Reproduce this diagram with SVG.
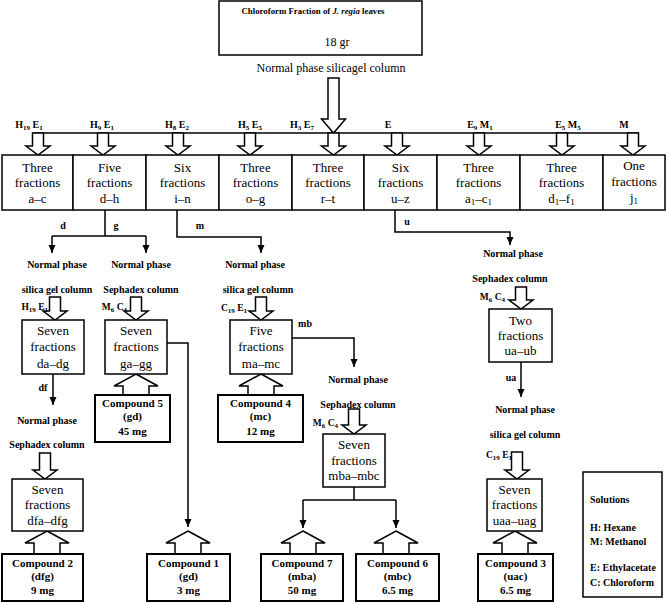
<svg xmlns="http://www.w3.org/2000/svg" width="667" height="602" viewBox="0 0 667 602" font-family="'Liberation Serif', 'DejaVu Serif', serif">
<defs>
<style>
.box{fill:#fff;stroke:#000;stroke-width:1.5}
.cbox{fill:#fff;stroke:#000;stroke-width:2}
.ln{fill:none;stroke:#000;stroke-width:1.5}
.blk{fill:#fff;stroke:#000;stroke-width:1.5;stroke-linejoin:miter}
text{font-family:"Liberation Serif","DejaVu Serif",serif;fill:#000}
.lbl{font-weight:bold;font-size:10px;text-anchor:middle}
.lbs{font-weight:bold;font-size:10px;text-anchor:start}
.lbe{font-weight:bold;font-size:9.5px;text-anchor:end}
.sb{font-size:7px}
.ft{font-size:13px;text-anchor:middle}
.fs{font-size:9px}
.ct{font-weight:bold;font-size:11px;text-anchor:middle}
</style>
<marker id="ah" markerWidth="8" markerHeight="8" refX="8" refY="4" orient="auto" markerUnits="userSpaceOnUse" viewBox="0 0 8 8"><path d="M0,0.5 L8,4 L0,7.5 Z" fill="#000"/></marker>
</defs>
<rect width="667" height="602" fill="#fff"/>

<g id="top">
<rect class="box" x="219" y="1" width="203" height="54"/>
<text x="313" y="14" style="font-size:8.8px;font-weight:bold;text-anchor:middle">Chloroform Fraction of <tspan font-style="italic">J. regia</tspan> leaves</text>
<text x="337" y="46" style="font-size:12px;text-anchor:middle">18 gr</text>
</g>
<text x="331" y="72" style="font-size:12px;text-anchor:middle">Normal phase silicagel column</text>

<g id="connectors">
<path class="ln" d="M33,133 H639"/>
<path class="blk" d="M328,78 H339 V119 H345.5 L333.5,133 L321.5,119 H328 Z"/>
<path class="blk" d="M32.5,133 H43.5 V146 H50 L38,155 L26,146 H32.5 Z"/>
<path class="blk" d="M97.5,133 H108.5 V146 H115 L103,155 L91,146 H97.5 Z"/>
<path class="blk" d="M172.5,133 H183.5 V146 H190 L178,155 L166,146 H172.5 Z"/>
<path class="blk" d="M244.5,133 H255.5 V146 H262 L250,155 L238,146 H244.5 Z"/>
<path class="blk" d="M328,133 H339 V146 H345.5 L333.5,155 L321.5,146 H328 Z"/>
<path class="blk" d="M391.5,133 H402.5 V146 H409 L397,155 L385,146 H391.5 Z"/>
<path class="blk" d="M473.5,133 H484.5 V146 H491 L479,155 L467,146 H473.5 Z"/>
<path class="blk" d="M556.5,133 H567.5 V146 H574 L562,155 L550,146 H556.5 Z"/>
<path class="blk" d="M627.5,133 H638.5 V146 H645 L633,155 L621,146 H627.5 Z"/>

<path class="ln" d="M105,210 V236 M52,236 H146"/>
<path class="ln" d="M52,236 V253" marker-end="url(#ah)"/>
<path class="ln" d="M146,236 V253" marker-end="url(#ah)"/>
<path class="ln" d="M177,210 V237 H261 V253" marker-end="url(#ah)"/>
<path class="ln" d="M395,210 V232 H510 V245" marker-end="url(#ah)"/>
<path class="ln" d="M53,374 V405" marker-end="url(#ah)"/>
<path class="ln" d="M167,343 H188 V527" marker-end="url(#ah)"/>
<path class="ln" d="M292,338 H354 V367" marker-end="url(#ah)"/>
<path class="ln" d="M521,362 V397" marker-end="url(#ah)"/>
<path class="ln" d="M354,487 V500 M303,500 H396"/>
<path class="ln" d="M303,500 V528" marker-end="url(#ah)"/>
<path class="ln" d="M396,500 V528" marker-end="url(#ah)"/>

<path class="blk" d="M49.5,297 H60.5 V311 H67 L55,320 L43,311 H49.5 Z"/>
<path class="blk" d="M130.5,297 H141.5 V311 H148 L136,320 L124,311 H130.5 Z"/>
<path class="blk" d="M255.5,297 H266.5 V311 H273 L261,320 L249,311 H255.5 Z"/>
<path class="blk" d="M348.5,409 H359.5 V425 H366 L354,434 L342,425 H348.5 Z"/>
<path class="blk" d="M515.5,287 H526.5 V300 H533 L521,309 L509,300 H515.5 Z"/>
<path class="blk" d="M39.5,453 H50.5 V470 H57 L45,479 L33,470 H39.5 Z"/>
<path class="blk" d="M511.5,452 H522.5 V470 H529 L517,479 L505,470 H511.5 Z"/>

<path class="blk" d="M136,374 L158,386 H149 V395 H123 V386 H114 Z"/>
<path class="blk" d="M261,374 L283,386 H274 V395 H248 V386 H239 Z"/>
<path class="blk" d="M47,531 L69,543 H60 V554 H34 V543 H25 Z"/>
<path class="blk" d="M188,531 L210,543 H201 V554 H175 V543 H166 Z"/>
<path class="blk" d="M303,531 L325,543 H316 V554 H290 V543 H281 Z"/>
<path class="blk" d="M396,531 L418,543 H409 V554 H383 V543 H374 Z"/>
<path class="blk" d="M515,531 L537,543 H528 V554 H502 V543 H493 Z"/>
</g>

<g id="solvent-labels">
<text class="lbl" x="29" y="128">H<tspan class="sb" dy="2">19</tspan><tspan dy="-2"> E</tspan><tspan class="sb" dy="2">1</tspan></text>
<text class="lbl" x="102" y="128">H<tspan class="sb" dy="2">9</tspan><tspan dy="-2"> E</tspan><tspan class="sb" dy="2">1</tspan></text>
<text class="lbl" x="177" y="128">H<tspan class="sb" dy="2">8</tspan><tspan dy="-2"> E</tspan><tspan class="sb" dy="2">2</tspan></text>
<text class="lbl" x="250" y="128">H<tspan class="sb" dy="2">5</tspan><tspan dy="-2"> E</tspan><tspan class="sb" dy="2">5</tspan></text>
<text class="lbl" x="302" y="128">H<tspan class="sb" dy="2">3</tspan><tspan dy="-2"> E</tspan><tspan class="sb" dy="2">7</tspan></text>
<text class="lbl" x="388" y="128">E</text>
<text class="lbl" x="480" y="128">E<tspan class="sb" dy="2">9</tspan><tspan dy="-2"> M</tspan><tspan class="sb" dy="2">1</tspan></text>
<text class="lbl" x="568" y="128">E<tspan class="sb" dy="2">5</tspan><tspan dy="-2"> M</tspan><tspan class="sb" dy="2">5</tspan></text>
<text class="lbl" x="624" y="128">M</text>
</g>

<g id="row-ac"><rect class="box" x="2" y="155" width="71" height="55"/><text class="ft" x="37.5" y="172">Three</text><text class="ft" x="37.5" y="187">fractions</text><text class="ft" x="37.5" y="203">a–c</text></g>
<g id="row-dh"><rect class="box" x="73" y="155" width="73" height="55"/><text class="ft" x="109.5" y="172">Five</text><text class="ft" x="109.5" y="187">fractions</text><text class="ft" x="109.5" y="203">d–h</text></g>
<g id="row-in"><rect class="box" x="146" y="155" width="73" height="55"/><text class="ft" x="182.5" y="172">Six</text><text class="ft" x="182.5" y="187">fractions</text><text class="ft" x="182.5" y="203">i–n</text></g>
<g id="row-og"><rect class="box" x="219" y="155" width="73" height="55"/><text class="ft" x="255.5" y="172">Three</text><text class="ft" x="255.5" y="187">fractions</text><text class="ft" x="255.5" y="203">o–g</text></g>
<g id="row-rt"><rect class="box" x="292" y="155" width="72" height="55"/><text class="ft" x="328" y="172">Three</text><text class="ft" x="328" y="187">fractions</text><text class="ft" x="328" y="203">r–t</text></g>
<g id="row-uz"><rect class="box" x="364" y="155" width="73" height="55"/><text class="ft" x="400.5" y="172">Six</text><text class="ft" x="400.5" y="187">fractions</text><text class="ft" x="400.5" y="203">u–z</text></g>
<g id="row-a1c1"><rect class="box" x="437" y="155" width="83" height="55"/><text class="ft" x="478.5" y="172">Three</text><text class="ft" x="478.5" y="187">fractions</text><text class="ft" x="478.5" y="203">a<tspan class="fs" dy="2">1</tspan><tspan dy="-2">–c</tspan><tspan class="fs" dy="2">1</tspan></text></g>
<g id="row-d1f1"><rect class="box" x="520" y="155" width="83" height="55"/><text class="ft" x="561.5" y="172">Three</text><text class="ft" x="561.5" y="187">fractions</text><text class="ft" x="561.5" y="203">d<tspan class="fs" dy="2">1</tspan><tspan dy="-2">–f</tspan><tspan class="fs" dy="2">1</tspan></text></g>
<g id="row-j1"><rect class="box" x="603" y="155" width="62" height="55"/><text class="ft" x="634" y="170">One</text><text class="ft" x="634" y="186">fractions</text><text class="ft" x="634" y="202">j<tspan class="fs" dy="2">1</tspan></text></g>

<g id="branch-labels">
<text class="lbl" x="63" y="229">d</text>
<text class="lbl" x="116" y="229">g</text>
<text class="lbl" x="200" y="229">m</text>
<text class="lbl" x="407" y="225">u</text>
<text class="lbl" x="43" y="391">df</text>
<text class="lbl" x="305" y="327">mb</text>
<text class="lbl" x="511" y="381">ua</text>
</g>

<g id="method-labels">
<text class="lbl" x="57" y="268">Normal phase</text>
<text class="lbl" x="57" y="293">silica gel column</text>
<text class="lbe" x="48" y="310">H<tspan class="sb" dy="2">19</tspan><tspan dy="-2"> E</tspan><tspan class="sb" dy="2">1</tspan></text>
<text class="lbl" x="141" y="268">Normal phase</text>
<text class="lbl" x="141" y="293">Sephadex column</text>
<text class="lbe" x="127" y="310">M<tspan class="sb" dy="2">6</tspan><tspan dy="-2"> C</tspan><tspan class="sb" dy="2">4</tspan></text>
<text class="lbl" x="255" y="268">Normal phase</text>
<text class="lbl" x="258" y="293">silica gel column</text>
<text class="lbe" x="247" y="311">C<tspan class="sb" dy="2">19</tspan><tspan dy="-2"> E</tspan><tspan class="sb" dy="2">1</tspan></text>
<text class="lbl" x="358" y="383">Normal phase</text>
<text class="lbl" x="358" y="408">Sephadex column</text>
<text class="lbe" x="338" y="426">M<tspan class="sb" dy="2">6</tspan><tspan dy="-2"> C</tspan><tspan class="sb" dy="2">4</tspan></text>
<text class="lbl" x="513" y="257">Normal phase</text>
<text class="lbl" x="510" y="282">Sephadex column</text>
<text class="lbe" x="505" y="300">M<tspan class="sb" dy="2">6</tspan><tspan dy="-2"> C</tspan><tspan class="sb" dy="2">4</tspan></text>
<text class="lbl" x="47" y="424">Normal phase</text>
<text class="lbl" x="47" y="448">Sephadex column</text>
<text class="lbl" x="525" y="413">Normal phase</text>
<text class="lbl" x="525" y="438">silica gel column</text>
<text class="lbe" x="512" y="458">C<tspan class="sb" dy="2">19</tspan><tspan dy="-2"> E</tspan><tspan class="sb" dy="2">1</tspan></text>
</g>

<g id="da-dg"><rect class="box" x="22" y="320" width="62" height="54"/><text class="ft" x="53" y="335">Seven</text><text class="ft" x="53" y="351">fractions</text><text class="ft" x="53" y="368">da–dg</text></g>
<g id="ga-gg"><rect class="box" x="105" y="320" width="62" height="54"/><text class="ft" x="136" y="335">Seven</text><text class="ft" x="136" y="351">fractions</text><text class="ft" x="136" y="368">ga–gg</text></g>
<g id="ma-mc"><rect class="box" x="230" y="320" width="62" height="54"/><text class="ft" x="261" y="335">Five</text><text class="ft" x="261" y="351">fractions</text><text class="ft" x="261" y="368">ma–mc</text></g>
<g id="ua-ub"><rect class="box" x="489" y="309" width="63" height="53"/><text class="ft" x="520.5" y="325">Two</text><text class="ft" x="520.5" y="340">fractions</text><text class="ft" x="520.5" y="355">ua–ub</text></g>
<g id="mba-mbc"><rect class="box" x="323" y="434" width="62" height="53"/><text class="ft" x="354" y="449">Seven</text><text class="ft" x="354" y="465">fractions</text><text class="ft" x="354" y="480">mba–mbc</text></g>
<g id="dfa-dfg"><rect class="box" x="12" y="479" width="71" height="52"/><text class="ft" x="47.5" y="494">Seven</text><text class="ft" x="47.5" y="509">fractions</text><text class="ft" x="47.5" y="525">dfa–dfg</text></g>
<g id="uaa-uag"><rect class="box" x="487" y="479" width="55" height="52"/><text class="ft" x="514.5" y="494">Seven</text><text class="ft" x="514.5" y="509">fractions</text><text class="ft" x="514.5" y="525">uaa–uag</text></g>

<g id="compound5"><rect class="cbox" x="95" y="395" width="75" height="47"/><text class="ct" x="132.5" y="407">Compound 5</text><text class="ct" x="132.5" y="420">(gd)</text><text class="ct" x="132.5" y="435">45 mg</text></g>
<g id="compound4"><rect class="cbox" x="218" y="395" width="85" height="47"/><text class="ct" x="260.5" y="407">Compound 4</text><text class="ct" x="260.5" y="420">(mc)</text><text class="ct" x="260.5" y="435">12 mg</text></g>
<g id="compound2"><rect class="cbox" x="2" y="554" width="81" height="47"/><text class="ct" x="42.5" y="567">Compound 2</text><text class="ct" x="42.5" y="580">(dfg)</text><text class="ct" x="42.5" y="594">9 mg</text></g>
<g id="compound1"><rect class="cbox" x="147" y="554" width="83" height="47"/><text class="ct" x="188.5" y="567">Compound 1</text><text class="ct" x="188.5" y="580">(gd)</text><text class="ct" x="188.5" y="594">3 mg</text></g>
<g id="compound7"><rect class="cbox" x="261" y="554" width="82" height="47"/><text class="ct" x="302" y="567">Compound 7</text><text class="ct" x="302" y="580">(mba)</text><text class="ct" x="302" y="594">50 mg</text></g>
<g id="compound6"><rect class="cbox" x="356" y="554" width="83" height="47"/><text class="ct" x="397.5" y="567">Compound 6</text><text class="ct" x="397.5" y="580">(mbc)</text><text class="ct" x="397.5" y="594">6.5 mg</text></g>
<g id="compound3"><rect class="cbox" x="478" y="554" width="75" height="47"/><text class="ct" x="515.5" y="567">Compound 3</text><text class="ct" x="515.5" y="580">(uac)</text><text class="ct" x="515.5" y="594">6.5 mg</text></g>

<g id="solutions"><rect class="box" x="583" y="472" width="79" height="125"/>
<text class="lbs" x="590" y="503">Solutions</text>
<text class="lbs" x="590" y="531">H: Hexane</text>
<text class="lbs" x="590" y="545">M: Methanol</text>
<text class="lbs" x="590" y="571">E: Ethylacetate</text>
<text class="lbs" x="590" y="586">C: Chloroform</text>
</g>
</svg>
